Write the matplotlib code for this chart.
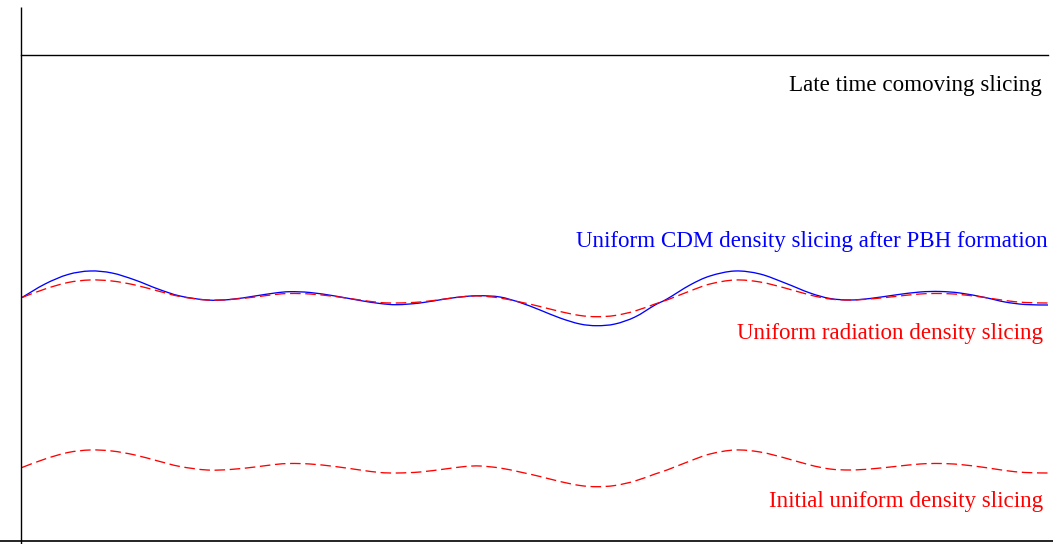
import matplotlib
matplotlib.use("Agg")
import matplotlib.pyplot as plt
from matplotlib.path import Path
from matplotlib.patches import PathPatch

# horizontal sample positions along the slices
x = [22, 45, 68, 90, 112, 135, 158, 180, 207, 230, 255, 275, 290, 310, 335, 360,
     380, 397, 420, 445, 465, 480, 500, 520, 540, 560, 580, 597, 615, 635, 655,
     667, 690, 710, 735, 760, 785, 810, 830, 850, 870, 895, 920, 940, 960, 985,
     1005, 1025, 1048]

# height perturbation of the uniform CDM density slicing (after PBH formation)
cdm_dev = [0, 13.5, 23, 26.5, 24.5, 17.5, 8.5, 1.5, -2.5, -2, 1.5, 4.5, 5.8, 5,
           1.5, -3, -6, -7.2, -5.5, -1.5, 1, 1.8, 0.5, -5, -12.5, -20.5, -26.5,
           -28.2, -26.5, -19.5, -7.5, -1.5, 12.5, 21.5, 26.5, 23.5, 14.5, 4.5,
           -1, -2.5, -1, 2.5, 5.5, 6, 4.5, 0, -4.5, -7, -7.5]

# height perturbation of the uniform radiation density slicing
rad_dev = [0, 8.5, 15, 17.5, 16.5, 12.5, 6.5, 1, -2.5, -2, 0.5, 3, 4, 3.5, 1,
           -2.5, -5, -5.5, -4.5, -1.5, 1, 1.5, -0.5, -4.5, -9, -14, -18, -19.2,
           -18, -13.5, -6.5, -2.5, 6.5, 13.5, 17.5, 15.5, 9.5, 2.5, -1.5, -2.5,
           -1.5, 1, 3.5, 4, 3, 0, -3, -5, -5.5]

# height perturbation of the initial uniform density slicing
init_dev = rad_dev

labels = ["Late time comoving slicing",
          "Uniform CDM density slicing after PBH formation",
          "Uniform radiation density slicing",
          "Initial uniform density slicing"]


def smooth_path(xs, ys):
    """Bezier path passing through every sample (Catmull-Rom tangents)."""
    n = len(xs)
    verts = [(xs[0], ys[0])]
    codes = [Path.MOVETO]
    for i in range(n - 1):
        x0, y0 = (xs[i - 1], ys[i - 1]) if i > 0 else (xs[i], ys[i])
        x1, y1 = xs[i], ys[i]
        x2, y2 = xs[i + 1], ys[i + 1]
        x3, y3 = (xs[i + 2], ys[i + 2]) if i + 2 < n else (xs[i + 1], ys[i + 1])
        c1 = (x1 + (x2 - x0) / 6.0, y1 + (y2 - y0) / 6.0)
        c2 = (x2 - (x3 - x1) / 6.0, y2 - (y3 - y1) / 6.0)
        verts += [c1, c2, (x2, y2)]
        codes += [Path.CURVE4] * 3
    return Path(verts, codes)


W, H = 1053, 544
fig = plt.figure(figsize=(W / 100, H / 100), dpi=100)
ax = fig.add_axes([0, 0, 1, 1])
ax.set_xlim(0, W)
ax.set_ylim(H, 0)
ax.axis("off")

mid_level = 297.5
low_level = 467.5
top_level = 55

# frame lines
ax.plot([21, 21], [7, H], color="black", lw=1.0, solid_capstyle="butt")
ax.plot([21, 1048], [top_level, top_level], color="black", lw=1.0)
ax.plot([0, W], [541, 541], color="black", lw=1.2)

ax.add_patch(PathPatch(smooth_path(x, [mid_level - d for d in cdm_dev]),
                       fill=False, edgecolor="#0000ff", lw=0.95))
ax.add_patch(PathPatch(smooth_path(x, [mid_level - d for d in rad_dev]),
                       fill=False, edgecolor="#ff0000", lw=0.95,
                       linestyle=(0, (8, 3.5))))
ax.add_patch(PathPatch(smooth_path(x, [low_level - d for d in init_dev]),
                       fill=False, edgecolor="#ff0000", lw=0.95,
                       linestyle=(0, (8, 3.5))))

font = dict(family="Liberation Serif", fontsize=16.6, ha="right", va="center")
ax.text(1042, 85, labels[0], color="black", **font)
ax.text(1048, 242, labels[1], color="#0000ff", **font)
ax.text(1043, 333, labels[2], color="#ff0000", **font)
ax.text(1043, 502, labels[3], color="#ff0000", **font)

fig.savefig("out.png", dpi=100)
